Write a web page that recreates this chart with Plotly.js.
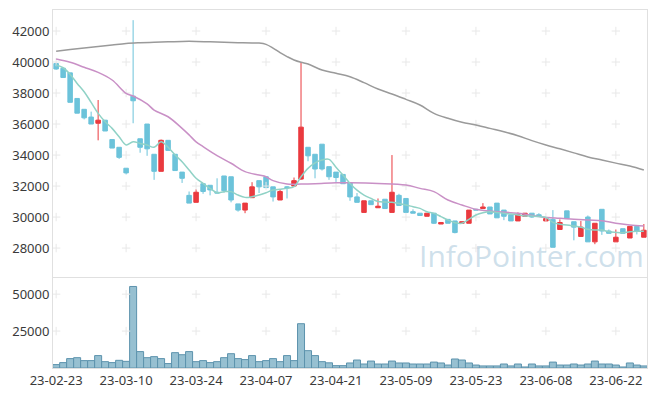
<!DOCTYPE html>
<html><head><meta charset="utf-8">
<script src="https://cdn.plot.ly/plotly-3.0.1.min.js"></script>
<style>html,body{margin:0;padding:0;background:#fff}#c{width:657px;height:396px}</style>
</head><body><div id="c"></div>
<script>
const dates=["23-02-23","23-02-24","23-02-27","23-02-28","23-03-02","23-03-03","23-03-06","23-03-07","23-03-08","23-03-09",
"23-03-10","23-03-13","23-03-14","23-03-15","23-03-16","23-03-17","23-03-20","23-03-21","23-03-22","23-03-23",
"23-03-24","23-03-27","23-03-28","23-03-29","23-03-30","23-03-31","23-04-03","23-04-04","23-04-05","23-04-06",
"23-04-07","23-04-10","23-04-11","23-04-12","23-04-13","23-04-14","23-04-17","23-04-18","23-04-19","23-04-20",
"23-04-21","23-04-24","23-04-25","23-04-26","23-04-27","23-04-28","23-05-02","23-05-03","23-05-04","23-05-08",
"23-05-09","23-05-10","23-05-11","23-05-12","23-05-15","23-05-16","23-05-17","23-05-18","23-05-19","23-05-22",
"23-05-23","23-05-24","23-05-25","23-05-26","23-05-30","23-05-31","23-06-01","23-06-02","23-06-05","23-06-07",
"23-06-08","23-06-09","23-06-12","23-06-13","23-06-14","23-06-15","23-06-16","23-06-19","23-06-20","23-06-21",
"23-06-22","23-06-23","23-06-26","23-06-27","23-06-28"];
const open=[39900,39600,39300,37650,36950,36450,36050,36250,35000,34500,33150,37800,35050,36000,34050,32950,34950,34050,32900,31400,
30950,32150,32050,31600,32650,32600,30850,30450,31250,32350,32600,31950,31100,31950,32000,32450,34500,34050,34700,33250,
32900,32750,32200,31300,30300,31050,30600,31150,30300,31400,31200,30350,30250,30050,30250,29550,29850,29750,29600,29600,
30500,30550,30650,30900,30450,30150,29750,30050,30250,30150,29750,29850,29200,30400,29700,28750,30000,28400,30500,29100,
28400,29250,28650,29400,28700];
const high=[39950,39600,39300,37650,36950,36800,37550,36250,35000,34500,33150,42700,35050,36000,34050,35000,34950,34050,32900,31650,
31800,32150,32050,32500,32650,32600,30850,30900,32250,32350,32600,31950,31750,32000,32550,40000,34500,34050,34700,33250,
32900,32750,32200,31550,31050,31050,31200,31150,34000,31500,31200,30500,30250,30250,30250,29650,29850,29750,29700,30450,
30500,30900,30650,30900,30450,30150,30300,30250,30250,30250,29900,30450,29850,30400,29700,29750,30100,29600,30500,29200,
29200,29250,29400,29400,29550];
const low=[39500,39000,37400,36700,36300,36000,34950,35550,34450,33750,32750,36050,34150,33950,32400,32950,34300,33000,32200,30900,
30950,31500,31400,31550,31570,30950,30350,30250,31250,31550,31900,31000,31100,31200,32000,32400,33600,32500,33000,32400,
32200,32150,31050,30950,30300,30800,30600,30550,30300,30750,30300,30250,30100,30050,29550,29550,29600,28950,29600,29600,
30450,30550,30200,29950,29800,29750,29750,30050,29950,30050,29750,28050,29200,29900,28500,28750,28400,28250,28850,28950,
28400,28950,28650,28880,28700];
const close=[39550,39000,37400,36700,36400,36000,36250,35550,34450,33850,32850,37500,34500,34400,32950,34950,34300,33000,32500,30900,
31600,31650,31750,31550,31700,31100,30450,30900,31950,31950,31900,31300,31650,31900,32350,35800,33950,33100,33100,32600,
32550,32150,31300,30950,31050,30800,30700,30550,31600,30750,30300,30250,30100,30250,29600,29650,29600,29000,29700,30450,
30450,30650,30200,29950,30050,29750,30150,30250,30000,30050,29900,28050,29650,29900,29350,29350,28400,29600,29100,28950,
28700,28950,29400,29100,29150];
const volume=[2300,3650,6350,7000,5000,5000,8400,4300,3650,5200,4500,55200,11100,7000,7700,6350,3000,10400,9000,11100,
4300,5000,3650,4300,7000,9700,6350,5700,8400,4300,5000,6350,4300,8400,5000,30000,11750,8400,4300,3500,
1600,1600,3400,5400,2700,4700,2700,2700,4700,3400,3400,2700,2700,2700,4000,3400,2000,6100,5400,3400,
2000,1400,1400,1400,2700,1400,2700,700,2700,1400,1400,4000,2000,2000,2700,2000,2700,4700,2700,2700,
2000,700,3400,2000,1400];
const ma5=[39810,39630,39200,38620,38080,37400,36690,36150,35720,35180,34650,34860,34750,34650,34500,34860,34500,34000,33570,33030,
32500,32170,31850,31570,31640,31640,31420,31270,31310,31420,31570,31740,31790,31850,31960,32600,33140,33500,33680,33720,
33210,32710,32170,31740,31420,31200,31010,30970,30950,30880,30780,30670,30560,30340,30240,30030,29810,29640,29600,29850,
30130,30280,30340,30300,30240,30200,30130,30070,30070,30030,29980,29660,29530,29490,29420,29340,29210,29160,29160,29050,
29010,28990,29050,29080,29080];
const ma20Idx=[0,2,4,6,8,10,11,13,14,16,18,19,20,21,23,25,27,29,30,31,33,35,37,40,42,46,50,52,54,56,58,60,62,66,70,72,76,78,80,82,84];
const ma20=[40190,39980,39660,39330,38840,37980,37810,37300,36900,36470,35720,35300,34850,34540,33960,33470,32930,32710,32600,32350,32130,32130,32150,32210,32210,32170,32070,31850,31640,31100,30780,30500,30390,30240,29980,29920,29810,29770,29600,29490,29420];
const ma60Idx=[0,2,4,6,8,10,12,14,16,18,20,22,24,26,28,29,30,31,32,33,34,35,36,38,40,42,44,46,48,50,52,54,56,58,60,62,64,66,68,70,72,74,76,78,80,82,84];
const ma60=[40700,40800,40900,41000,41100,41200,41250,41280,41300,41330,41330,41300,41280,41250,41230,41220,41140,40900,40600,40350,40130,39980,39870,39480,39270,39050,38670,38260,37940,37590,37230,36690,36370,36110,35940,35720,35500,35250,34930,34650,34400,34140,33880,33680,33480,33290,33030];
const priceTicks=[28000,30000,32000,34000,36000,38000,40000,42000];
const volTicks=[25000,50000];
const tickDates=dates.filter((d,i)=>i%10===0);

const gx=[],gy=[],vx=[],vy=[];
tickDates.forEach(d=>{priceTicks.forEach(v=>{gx.push(d);gy.push(v);});volTicks.forEach(v=>{vx.push(d);vy.push(v);});});

const UP='#ea3a3f', DN='#6cc3da';
const grid={symbol:'cross-thin',size:6,line:{color:'#e8e8e8',width:1}};
const traces=[
 {type:'scatter',mode:'markers',x:gx,y:gy,xaxis:'x2',yaxis:'y2',marker:grid,hoverinfo:'skip'},
 {type:'scatter',mode:'markers',x:vx,y:vy,xaxis:'x',yaxis:'y',marker:grid,hoverinfo:'skip'},
 {type:'bar',x:dates,y:volume,xaxis:'x',yaxis:'y',marker:{color:'#97c0d1',line:{color:'#5d93ad',width:1}}},
 {type:'scatter',mode:'lines',x:ma60Idx.map(i=>dates[i]),y:ma60,xaxis:'x2',yaxis:'y2',line:{color:'#9a9a9a',width:1.5,shape:'spline'}},
 {type:'scatter',mode:'lines',x:ma20Idx.map(i=>dates[i]),y:ma20,xaxis:'x2',yaxis:'y2',line:{color:'#c990c6',width:1.5,shape:'spline'}},
 {type:'scatter',mode:'lines',x:dates,y:ma5,xaxis:'x2',yaxis:'y2',line:{color:'#90d2c6',width:1.5,shape:'spline'}},
 {type:'candlestick',x:dates,open:open,high:high,low:low,close:close,xaxis:'x2',yaxis:'y2',
  increasing:{line:{color:UP,width:1},fillcolor:UP},decreasing:{line:{color:DN,width:1},fillcolor:DN},whiskerwidth:0}
];
const font={family:'Noto Sans, sans-serif',size:13,color:'#3a3a3a'};
const layout={
 width:657,height:396,margin:{l:53,r:10,t:10,b:28},paper_bgcolor:'#fff',plot_bgcolor:'#fff',
 showlegend:false,font:font,bargap:0,boxgap:0.08,
 xaxis:{type:'category',categoryorder:'array',categoryarray:dates,range:[-0.45,84.45],anchor:'y',
   tickmode:'array',tickvals:tickDates,ticktext:tickDates,showgrid:false,showline:true,linecolor:'#e0e0e0',mirror:true,ticks:'',tickfont:font,zeroline:false},
 xaxis2:{type:'category',matches:'x',anchor:'y2',showticklabels:false,showgrid:false,showline:true,linecolor:'#e0e0e0',mirror:true,ticks:'',rangeslider:{visible:false},zeroline:false},
 yaxis:{domain:[0,0.251],range:[0,60840],tickvals:volTicks,ticktext:['25000','50000'],showgrid:false,showline:true,linecolor:'#e0e0e0',mirror:true,ticks:'',zeroline:false,tickfont:font},
 yaxis2:{domain:[0.254,1],range:[26130,43355],tickvals:priceTicks,ticktext:priceTicks.map(String),showgrid:false,showline:true,linecolor:'#e0e0e0',mirror:true,ticks:'',zeroline:false,tickfont:font},
 annotations:[{text:'InfoPointer.com',xref:'paper',yref:'paper',x:0.805,y:0.313,xanchor:'center',yanchor:'middle',showarrow:false,
   font:{family:'Open Sans, sans-serif',size:30,color:'rgba(165,198,218,0.55)'}}]
};
Plotly.newPlot('c',traces,layout,{displayModeBar:false,staticPlot:true});
</script></body></html>
